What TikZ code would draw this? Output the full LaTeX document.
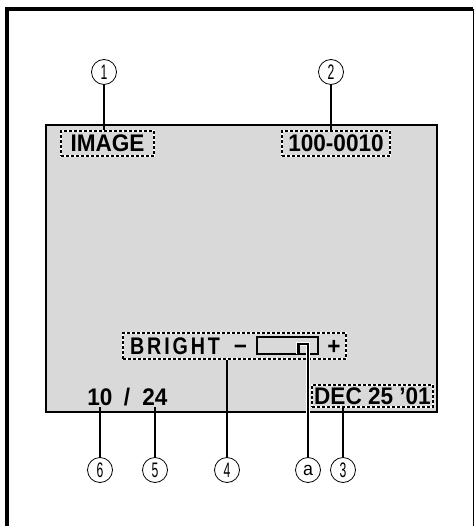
\documentclass[tikz,border=0pt]{standalone}
\usepackage{fontspec}
\setmainfont{Liberation Sans}
\newfontfamily\osdfont[FakeStretch=0.94]{Liberation Sans}
\newfontfamily\brightfont[FakeStretch=0.82,LetterSpace=12]{Liberation Sans}
\newfontfamily\tagfont[FakeStretch=0.58]{Liberation Sans}
\definecolor{screengray}{RGB}{217,217,217}

\tikzset{
  osd/.style={inner sep=0pt,font=\osdfont\bfseries\fontsize{24}{24}\selectfont},
  dbox/.style={preaction={draw=white,solid,line width=2.6pt},draw,
    line width=1.4pt,dash pattern=on 3pt off 2pt,inner sep=0pt},
  tag/.style={circle,draw,line width=0.8pt,minimum size=25pt,inner sep=0pt,
    font=\tagfont\fontsize{21}{21}\selectfont},
  lead/.style={line width=1.6pt}
}

\begin{document}
\begin{tikzpicture}[x=1pt,y=-1pt]
    \useasboundingbox (0,0) rectangle (475,526);
    % frame
    \draw[line width=4pt,line join=miter] (7,526) -- (7,9) -- (473,9);
    \draw[line width=1pt] (473,9) -- (473,526);
    % screen
    \draw[fill=screengray,line width=2pt] (46,125) rectangle (437,412);
    % on-screen items
    \node[osd,dbox,minimum width=93pt,minimum height=25pt] (img) at (107.5,143.5) {IMAGE};
    \node[osd,dbox,minimum width=108pt,minimum height=25pt] (fileno) at (336,143.5) {100-0010};
    \node[osd,dbox,minimum width=121pt,minimum height=22pt] (date) at (372.5,396) {DEC 25 ’01};
    \node[dbox,minimum width=223pt,minimum height=26pt] (bbox) at (234.5,346) {};
    \node[inner sep=0pt,font=\brightfont\bfseries\fontsize{24}{24}\selectfont] (bright) at (175,346) {BRIGHT};
    \node[osd,anchor=base] (minus) at (240.5,354) {−};
    \node[osd,anchor=base] (plus) at (334,354.5) {+};
    \node[osd,inner ysep=1.5pt] (cur) at (100,397) {10};
    \node[osd] (slash) at (127,397) {/};
    \node[osd,inner ysep=1.5pt] (tot) at (155,397) {24};
    % slider
    \draw[line width=1.4pt] (257,337) rectangle (318,354);
    % callouts
    \node[tag] (c1) at (104,72) {1};
    \node[tag] (c2) at (331,72) {2};
    \node[tag] (c6) at (100,470) {6};
    \node[tag] (c5) at (155,470) {5};
    \node[tag] (c4) at (227,470) {4};
    \node[tag,font=\osdfont\fontsize{19}{19}\selectfont] (ca) at (308,470) {a};
    \node[tag] (c3) at (343,470) {3};
    \draw[lead] (c1.south) -- (c1.south |- img.north);
    \draw[lead] (c2.south) -- (c2.south |- fileno.north);
    \draw[lead] (c6.north) -- (c6.north |- cur.south);
    \draw[lead] (c5.north) -- (c5.north |- tot.south);
    \draw[lead] (c4.north) -- (c4.north |- bbox.south);
    \draw[lead] (c3.north) -- (c3.north |- date.south);
    \draw[lead,line width=3.4pt,white] (298,354) -- (298,344) -| (ca.north);
    \draw[lead] (298,354) -- (298,344) -| (ca.north);
    \draw[line width=3pt] (298,343.5) -- (298,354);
\end{tikzpicture}
\end{document}
